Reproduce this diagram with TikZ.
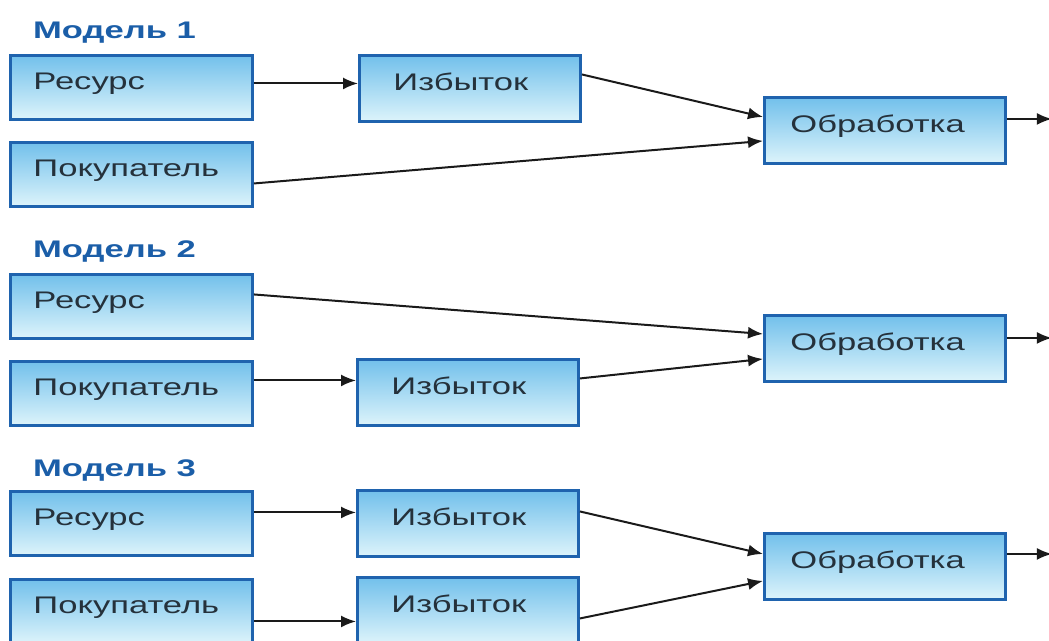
\documentclass[tikz,border=0pt]{standalone}
\usepackage{fontspec}
\usetikzlibrary{arrows.meta,calc}
\newfontfamily\wideface{Liberation Sans}[FakeStretch=1.44]

\definecolor{boxedge}{HTML}{1F63AE}
\definecolor{boxtop}{HTML}{72C0EB}
\definecolor{boxbottom}{HTML}{DDF4FB}
\definecolor{boxtext}{HTML}{25313B}
\definecolor{headblue}{HTML}{1B5EA8}
\definecolor{wire}{HTML}{1A1A1A}

\tikzset{
  box/.style={draw=boxedge, line width=2.9pt, top color=boxtop, bottom color=boxbottom,
    anchor=north west, inner ysep=0pt, text height=18pt, text depth=14pt,
    align=left, text=boxtext, font=\wideface\fontsize{24}{28}\selectfont},
  srcbox/.style={box, inner xsep=23pt, text width=196pt, minimum height=64pt},
  surplus/.style={box, inner xsep=34pt, text width=153pt, minimum height=66pt},
  proc/.style={box, inner xsep=26pt, text width=189pt, minimum height=66pt},
  heading/.style={anchor=base west, inner sep=0pt, text=headblue,
    font=\wideface\bfseries\fontsize{24}{28}\selectfont},
  conn/.style={draw=wire, line width=2pt, -{Latex[length=15pt,width=12pt]}}
}

\begin{document}
\begin{tikzpicture}[x=1pt,y=-1pt]
\useasboundingbox (0,0) rectangle (1049,640);

% ---- Model 1 ----
\node[heading] (h1) at (33,38) {Модель 1};
\node[srcbox]  (r1) at (9,54)    {Ресурс};
\node[srcbox]  (p1) at (9,141)   {Покупатель};
\node[surplus] (i1) at (358,54)  {Избыток};
\node[proc]    (o1) at (763,96)  {Обработка};
\coordinate (e1) at ($(o1.east)+(45,-11.5)$);

\draw[conn] ($(r1.east)+(0,-4)$)   -- ($(i1.west)+(0,-5)$);
\draw[conn] ($(i1.east)+(0,-14)$)  -- ($(o1.west)+(0,-13.5)$);
\draw[conn] ($(p1.east)+(0,9)$)    -- ($(o1.west)+(0,10.5)$);
\draw[conn] ($(o1.east)+(0,-11.5)$) -- (e1);

% ---- Model 2 ----
\node[heading] (h2) at (33,257) {Модель 2};
\node[srcbox]  (r2) at (9,273)   {Ресурс};
\node[srcbox]  (p2) at (9,360)   {Покупатель};
\node[surplus] (i2) at (356,358) {Избыток};
\node[proc]    (o2) at (763,314) {Обработка};
\coordinate (e2) at ($(o2.east)+(45,-10.5)$);

\draw[conn] ($(r2.east)+(0,-12)$)  -- ($(o2.west)+(0,-14.5)$);
\draw[conn] ($(p2.east)+(0,-13)$)  -- ($(i2.west)+(0,-12)$);
\draw[conn] ($(i2.east)+(0,-14)$)  -- ($(o2.west)+(0,10.5)$);
\draw[conn] ($(o2.east)+(0,-10.5)$) -- (e2);

% ---- Model 3 ----
\node[heading] (h3) at (33,476) {Модель 3};
\node[srcbox]  (r3) at (9,490)   {Ресурс};
\node[srcbox]  (p3) at (9,578)   {Покупатель};
\node[surplus] (a3) at (356,489) {Избыток};
\node[surplus] (b3) at (356,576) {Избыток};
\node[proc]    (o3) at (763,532) {Обработка};
\coordinate (e3) at ($(o3.east)+(45,-12.5)$);

\draw[conn] ($(r3.east)+(0,-11)$)  -- ($(a3.west)+(0,-11)$);
\draw[conn] ($(p3.east)+(0,10)$)   -- ($(b3.west)+(0,11)$);
\draw[conn] ($(a3.east)+(0,-12)$)  -- ($(o3.west)+(0,-12.5)$);
\draw[conn] ($(b3.east)+(0,8)$)    -- ($(o3.west)+(0,14.5)$);
\draw[conn] ($(o3.east)+(0,-12.5)$) -- (e3);
\end{tikzpicture}
\end{document}
